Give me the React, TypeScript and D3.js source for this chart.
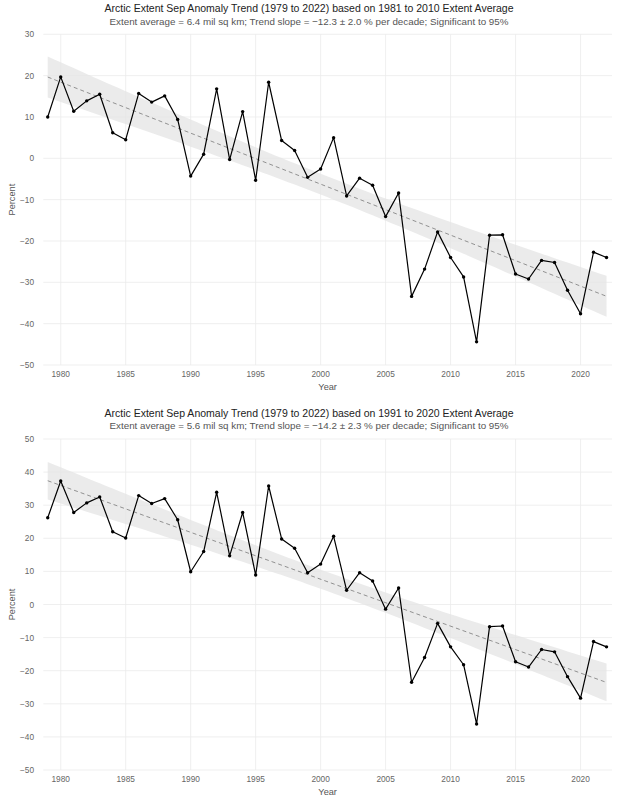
import React from "react";
import * as d3 from "d3";

const years = [1979,1980,1981,1982,1983,1984,1985,1986,1987,1988,1989,1990,1991,1992,1993,1994,1995,1996,1997,1998,1999,2000,2001,2002,2003,2004,2005,2006,2007,2008,2009,2010,2011,2012,2013,2014,2015,2016,2017,2018,2019,2020,2021,2022];

const anomaly8110 = [10.0,19.7,11.4,13.9,15.5,6.2,4.5,15.7,13.6,15.1,9.4,-4.3,1.0,16.8,-0.3,11.3,-5.3,18.4,4.3,1.9,-4.6,-2.6,5.0,-9.1,-4.8,-6.5,-14.1,-8.4,-33.4,-26.8,-17.8,-24.0,-28.7,-44.4,-18.6,-18.5,-28.0,-29.2,-24.7,-25.2,-31.9,-37.6,-22.7,-24.0];

const anomaly9120 = [26.2,37.3,27.8,30.7,32.5,22.0,20.1,32.9,30.5,32.0,25.6,9.9,16.0,33.9,14.7,27.8,8.9,35.8,19.8,17.0,9.6,12.2,20.6,4.3,9.6,7.1,-1.4,5.0,-23.5,-16.0,-5.7,-12.8,-18.2,-36.1,-6.7,-6.5,-17.3,-18.9,-13.6,-14.3,-21.8,-28.3,-11.2,-12.8];

const xTicks = [1980,1985,1990,1995,2000,2005,2010,2015,2020];
const yTicksTop = [30,20,10,0,-10,-20,-30,-40,-50];
const yTicksBottom = [50,40,30,20,10,0,-10,-20,-30,-40,-50];

const titleTop = "Arctic Extent Sep Anomaly Trend (1979 to 2022) based on 1981 to 2010 Extent Average";
const subtitleTop = "Extent average = 6.4 mil sq km; Trend slope = \u221212.3 \u00b1 2.0 % per decade; Significant to 95%";
const titleBottom = "Arctic Extent Sep Anomaly Trend (1979 to 2022) based on 1991 to 2020 Extent Average";
const subtitleBottom = "Extent average = 5.6 mil sq km; Trend slope = \u221214.2 \u00b1 2.3 % per decade; Significant to 95%";

const FONT = "'Liberation Sans', Arial, sans-serif";

function fmt(v: number) {
  return v < 0 ? "\u2212" + Math.abs(v) : String(v);
}

function Panel({ top, bottom, values, yTicks, title, subtitle }: any) {
  const left = 43.3, right = 612;
  const x = d3.scaleLinear().domain([1978.66, 2022.42]).range([left, right]);
  const y = d3.scaleLinear().domain([yTicks[yTicks.length - 1], yTicks[0]]).range([bottom, top]);

  // linear regression with 95% confidence band of the mean
  const n = years.length;
  const xm = d3.mean(years)!;
  const ym = d3.mean(values as number[])!;
  let sxx = 0, sxy = 0;
  years.forEach((yr, i) => { sxx += (yr - xm) ** 2; sxy += (yr - xm) * (values[i] - ym); });
  const b = sxy / sxx;
  const a = ym - b * xm;
  let sse = 0;
  years.forEach((yr, i) => { sse += (values[i] - (a + b * yr)) ** 2; });
  const s = Math.sqrt(sse / (n - 2));
  const t = 2.018;
  const bandData = years.map((yr) => {
    const fit = a + b * yr;
    const hw = t * s * Math.sqrt(1 / n + (yr - xm) ** 2 / sxx);
    return { yr, lo: fit - hw, hi: fit + hw, fit };
  });
  const area = d3.area<any>().x((d) => x(d.yr)).y0((d) => y(d.lo)).y1((d) => y(d.hi)).curve(d3.curveMonotoneX);
  const trend = d3.line<any>().x((d) => x(d.yr)).y((d) => y(d.fit));
  const line = d3.line<number>().x((_, i) => x(years[i])).y((d) => y(d));

  const cx = 309;
  return (
    <g>
      <text x={cx} y={top - 26} textAnchor="middle" dominantBaseline="central" fontFamily={FONT} fontSize={10.5} fill="#222">{title}</text>
      <text x={cx} y={top - 13.2} textAnchor="middle" dominantBaseline="central" fontFamily={FONT} fontSize={9.8} fill="#555">{subtitle}</text>
      {yTicks.map((v: number) => (
        <line key={"h" + v} x1={left} x2={right} y1={y(v)} y2={y(v)} stroke="#ebebeb" strokeWidth={0.8} />
      ))}
      {xTicks.map((v) => (
        <line key={"v" + v} x1={x(v)} x2={x(v)} y1={top} y2={bottom} stroke="#ebebeb" strokeWidth={0.8} />
      ))}
      <path d={area(bandData)!} fill="#e4e4e4" fillOpacity={0.75} />
      <path d={trend([bandData[0], bandData[n - 1]])!} fill="none" stroke="#7a7a7a" strokeWidth={0.8} strokeDasharray="4,3" />
      <path d={line(values)!} fill="none" stroke="#000" strokeWidth={1.2} strokeLinejoin="round" />
      {values.map((v: number, i: number) => (
        <circle key={i} cx={x(years[i])} cy={y(v)} r={1.7} fill="#000" />
      ))}
      {yTicks.map((v: number) => (
        <text key={"yt" + v} x={34} y={y(v)} textAnchor="end" dominantBaseline="central" fontFamily={FONT} fontSize={8.3} fill="#666">{fmt(v)}</text>
      ))}
      {xTicks.map((v) => (
        <text key={"xt" + v} x={x(v)} y={bottom + 9} textAnchor="middle" dominantBaseline="central" fontFamily={FONT} fontSize={8.3} fill="#666">{v}</text>
      ))}
      <text x={(left + right) / 2} y={bottom + 21.7} textAnchor="middle" dominantBaseline="central" fontFamily={FONT} fontSize={9.2} fill="#555">Year</text>
      <text transform={`translate(11.5,${(top + bottom) / 2}) rotate(-90)`} textAnchor="middle" dominantBaseline="central" fontFamily={FONT} fontSize={9.2} fill="#555">Percent</text>
    </g>
  );
}

export default function App() {
  return (
    <svg width={618} height={800} style={{ position: "absolute", left: 0, top: 0, background: "#fff" }}>
      <rect width={618} height={800} fill="#fff" />
      <Panel top={34.3} bottom={365} values={anomaly8110} yTicks={yTicksTop} title={titleTop} subtitle={subtitleTop} />
      <Panel top={439} bottom={770} values={anomaly9120} yTicks={yTicksBottom} title={titleBottom} subtitle={subtitleBottom} />
    </svg>
  );
}
